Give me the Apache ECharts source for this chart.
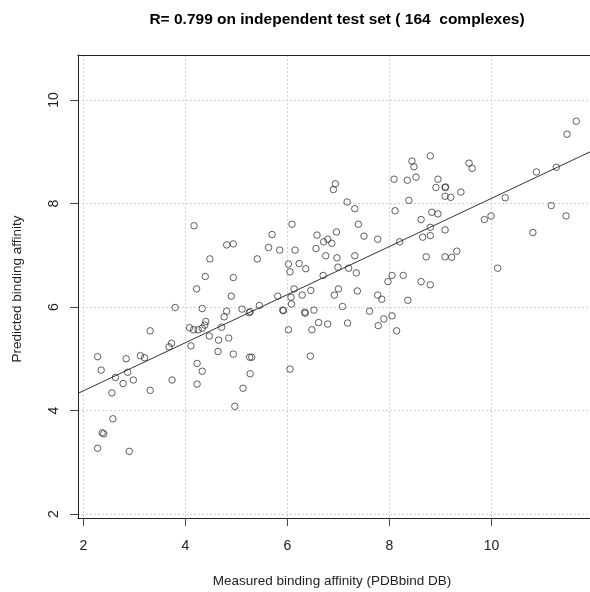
<!DOCTYPE html>
<html>
<head>
<meta charset="utf-8">
<script src="https://cdn.jsdelivr.net/npm/echarts@6/dist/echarts.min.js"></script>
<style>html,body{margin:0;padding:0;background:#fff;}#c{width:590px;height:592px;}</style>
</head>
<body>
<div id="c"></div>
<script>
// Measured binding affinity (x)
const measured = [3.31,4.71,2.28,2.35,2.84,2.63,2.78,2.87,2.98,3.12,3.20,2.56,3.31,3.68,3.73,3.74,4.11,4.23,4.33,4.23,4.47,4.65,4.85,4.64,4.94,5.26,5.30,5.27,5.13,4.97,2.58,2.37,2.40,2.28,2.90,
4.08,4.16,4.25,4.33,4.40,4.38,
7.17,4.17,6.09,5.70,4.81,4.94,5.63,5.85,6.15,6.58,6.71,6.79,6.87,6.96,6.56,6.75,6.97,4.48,5.41,6.02,6.05,6.23,6.36,6.99,7.20,4.39,4.94,4.22,6.13,6.46,7.00,4.90,5.81,6.07,6.29,6.92,6.08,3.80,4.33,4.81,5.11,5.25,5.27,5.45,5.91,5.92,6.34,6.35,6.52,7.08,4.76,6.02,6.48,6.61,6.79,7.18,
8.80,8.44,8.48,8.52,8.09,8.35,8.95,8.91,9.09,9.10,9.09,6.94,6.90,7.32,8.38,8.11,8.83,8.95,8.62,8.80,8.80,8.65,9.09,8.72,8.20,7.77,7.50,7.39,7.32,7.35,6.70,8.05,8.27,8.62,
7.97,8.80,7.37,7.77,7.85,8.36,7.61,7.78,7.89,8.05,8.14,6.45,6.05,
11.66,11.48,9.56,9.62,9.20,9.40,10.88,11.27,10.27,11.17,11.46,9.86,9.99,9.09,10.81,9.22,9.32,10.12];
// Predicted binding affinity (y)
const predicted = [5.54,5.61,5.04,4.78,5.00,4.64,4.52,4.74,4.59,5.06,5.02,4.34,4.39,5.23,5.30,4.59,5.25,4.91,4.76,4.51,5.44,5.36,5.40,5.14,5.09,5.03,5.03,4.71,4.43,4.08,3.84,3.57,3.55,3.27,3.21,
5.60,5.56,5.56,5.59,5.72,5.65,
8.03,7.57,7.60,7.40,7.20,7.22,7.15,7.10,7.10,7.39,7.26,7.31,7.23,7.45,7.13,6.99,6.95,6.93,6.93,6.83,6.68,6.84,6.74,6.77,6.75,6.59,6.57,6.35,6.35,6.32,6.35,6.21,6.21,6.19,6.23,6.23,6.06,5.99,5.97,5.92,5.96,5.89,5.91,6.03,5.94,5.93,5.90,5.88,5.94,6.01,5.81,5.56,5.56,5.70,5.67,5.69,
8.92,8.82,8.71,8.51,8.47,8.45,8.47,8.31,8.31,8.32,8.14,8.38,8.27,7.90,8.06,7.86,7.83,7.80,7.69,7.54,7.38,7.35,6.97,6.97,7.26,7.31,7.37,7.60,6.99,6.66,6.61,6.61,6.61,6.49,
6.49,6.43,6.31,6.23,6.15,6.13,5.92,5.64,5.77,5.83,5.54,5.05,4.80,
9.59,9.34,8.78,8.68,8.12,8.22,8.61,8.70,8.11,7.96,7.76,7.69,7.76,7.49,7.44,6.96,7.08,6.75];
const xTicks = [2,4,6,8,10];
const yTicks = [2,4,6,8,10];
const fitIntercept = 3.45;
const fitSlope = 0.465;
const titleText = 'R= 0.799 on independent test set ( 164  complexes)';
const xName = 'Measured binding affinity (PDBbind DB)';
const yName = 'Predicted binding affinity';

const xMin = 1.896, xMax = 11.93, yMin = 1.923, yMax = 10.87;
const pts = measured.map((v,i)=>[v, predicted[i]]);
const fitLine = [[xMin, fitIntercept + fitSlope*xMin],[xMax, fitIntercept + fitSlope*xMax]];
const FONT = '"Liberation Sans", Arial, sans-serif';
const BOX = '#222';

const chart = echarts.init(document.getElementById('c'), null, {renderer:'canvas'});
chart.setOption({
  animation:false,
  backgroundColor:'#fff',
  grid:{left:78, top:55, right:0, bottom:74, show:false, containLabel:false},
  xAxis:[{type:'value', min:xMin, max:xMax, position:'bottom',
    axisLine:{show:true, onZero:false, lineStyle:{color:BOX, width:1}},
    axisTick:{show:true, customValues:xTicks, length:8, inside:false, lineStyle:{color:'#444', width:1}},
    axisLabel:{customValues:xTicks, margin:21, fontFamily:FONT, fontSize:14, color:'#222'},
    splitLine:{show:true, lineStyle:{color:'#d3d3d3', type:[2,2], width:1}}
  },{type:'value', min:xMin, max:xMax, position:'top',
    axisLine:{show:true, onZero:false, lineStyle:{color:BOX, width:1}},
    axisTick:{show:false}, axisLabel:{show:false}, splitLine:{show:false}
  }],
  yAxis:{type:'value', min:yMin, max:yMax,
    axisLine:{show:true, onZero:false, lineStyle:{color:BOX, width:1}},
    axisTick:{show:true, customValues:yTicks, length:8, inside:false, lineStyle:{color:'#444', width:1}},
    axisLabel:{customValues:yTicks, margin:17, rotate:90, fontFamily:FONT, fontSize:14, color:'#222'},
    splitLine:{show:true, lineStyle:{color:'#d3d3d3', type:[2,2], width:1}}
  },
  graphic:[
    {type:'text', x:337, y:20, style:{text:titleText, font:'bold 15.5px '+FONT, fill:'#000', textAlign:'center', textVerticalAlign:'middle'}},
    {type:'text', x:332, y:581, style:{text:xName, font:'13.5px '+FONT, fill:'#222', textAlign:'center', textVerticalAlign:'middle'}},
    {type:'text', x:17, y:289, rotation:Math.PI/2, style:{text:yName, font:'13.5px '+FONT, fill:'#222', textAlign:'center', textVerticalAlign:'middle'}}
  ],
  series:[
    {type:'scatter', xAxisIndex:0, data:pts, symbol:'circle', symbolSize:6.5,
      itemStyle:{color:'rgba(0,0,0,0)', borderColor:'#222', borderWidth:0.9}, z:3},
    {type:'line', xAxisIndex:0, data:fitLine, showSymbol:false, symbol:'none', clip:true,
      lineStyle:{color:'#333', width:1}, z:2}
  ]
});
</script>
</body>
</html>
